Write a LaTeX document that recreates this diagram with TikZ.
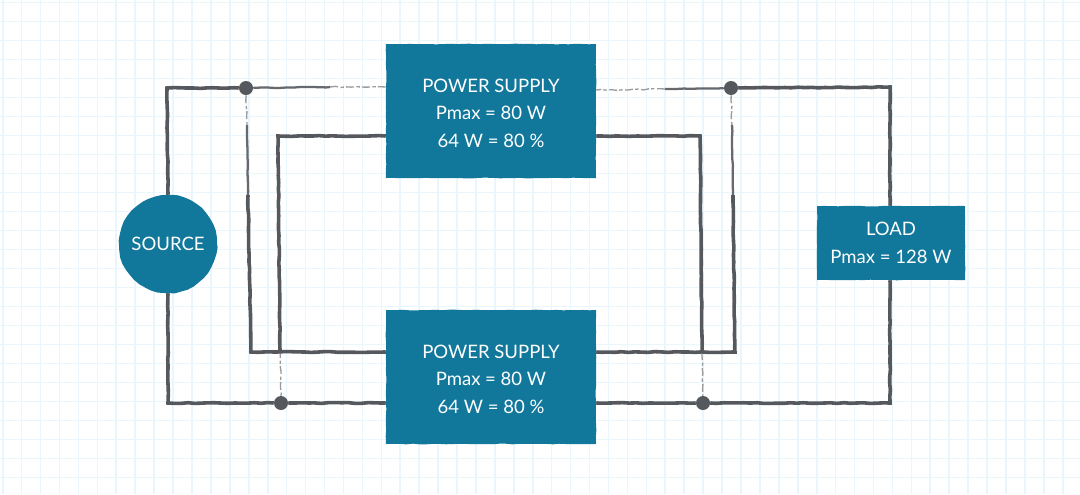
\documentclass[tikz,border=0pt]{standalone}
\usepackage{fontspec}
\setmainfont{Lato}
\usetikzlibrary{decorations.pathmorphing,backgrounds}
\definecolor{gridc}{HTML}{E9F6FC}
\definecolor{wirec}{HTML}{55595E}
\definecolor{boxc}{HTML}{11789C}
\pgfmathsetseed{7}
\newcommand{\lowered}[1]{\raisebox{-1.7pt}[\height][\depth]{#1}}
\tikzset{
  x=0.75pt,y=-0.75pt,
  gridline/.style={draw=gridc,line width=1.2pt},
  rough/.style={decorate,decoration={random steps,segment length=5pt,amplitude=0.3pt}},
  wire/.style={draw=wirec,line width=2.7pt,rough,line join=miter,
    preaction={draw=wirec,line width=1.4pt,decorate,decoration={random steps,segment length=9pt,amplitude=0.8pt}}},
  midwire/.style={draw=wirec!90,line width=1.7pt,rough,
    preaction={draw=wirec!60,line width=0.7pt,decorate,decoration={random steps,segment length=7pt,amplitude=0.8pt}}},
  faint/.style={draw=wirec!60,line width=1pt,dash pattern=on 6pt off 2pt on 2.5pt off 1.5pt,
    decorate,decoration={random steps,segment length=4pt,amplitude=0.5pt}},
  blockbox/.style={fill=boxc,text=white,inner sep=0pt,align=center,font=\fontsize{13.9pt}{20.5pt}\selectfont,
    decorate,decoration={random steps,segment length=5pt,amplitude=0.25pt}},
  junction/.style={circle,fill=wirec,inner sep=0pt,minimum size=10.5pt},
}
\begin{document}
\begin{tikzpicture}
\useasboundingbox (0,0) rectangle (1080,494);

\node[blockbox,circle,minimum size=73.5pt] (source) at (168,244) {SOURCE};
\node[blockbox,minimum width=157.5pt,minimum height=100.5pt] (ps1) at (491,111) {\lowered{POWER SUPPLY}\\\lowered{Pmax = 80 W}\\\lowered{64 W = 80 \%}};
\node[blockbox,minimum width=157.5pt,minimum height=100.5pt] (ps2) at (491,377) {\lowered{POWER SUPPLY}\\\lowered{Pmax = 80 W}\\\lowered{64 W = 80 \%}};
\node[blockbox,minimum width=111pt,minimum height=55.5pt] (load) at (891,243) {LOAD\\Pmax = 128 W};
\node[junction] (j1) at (246,88) {};
\node[junction] (j2) at (731,88) {};
\node[junction] (j3) at (281,403) {};
\node[junction] (j4) at (703,403) {};

\coordinate (tl) at (167,88);
\coordinate (tr) at (890,87);
\coordinate (bl) at (168,403);
\coordinate (br) at (890,403);
\coordinate (a1) at (330,87);
\coordinate (a2) at (665,89);
\coordinate (p1t) at (ps1.west |- 0,87);
\coordinate (p1tr) at (ps1.east |- 0,90);
\coordinate (p1l) at (ps1.west |- 0,136);
\coordinate (p1r) at (ps1.east |- 0,136);
\coordinate (p2l) at (ps2.west |- 0,352);
\coordinate (p2r) at (ps2.east |- 0,352);
\coordinate (p2bl) at (ps2.west |- 0,403);
\coordinate (p2br) at (ps2.east |- 0,403);
\coordinate (il) at (278,136);
\coordinate (ir) at (700,136);
\coordinate (il2) at (280,350);
\coordinate (ir2) at (702,352);
\coordinate (ol) at (251,352);
\coordinate (or) at (735,352);
\coordinate (m1a) at (247,125);
\coordinate (m1b) at (248,195);
\coordinate (m2a) at (732,125);
\coordinate (m2b) at (733,195);

\begin{pgfonlayer}{background}
  \fill[white] (0,0) rectangle (1080,494);
  \foreach \gx in {0,...,56} {\draw[gridline] (2.7+18.93*\gx,0) -- (2.7+18.93*\gx,494);}
  \foreach \gy in {0,...,26} {\draw[gridline] (0,2.5+19*\gy) -- (1080,2.5+19*\gy);}

  \draw[wire] (source.north) -- (tl) -- (j1);
  \draw[wire] (source.south) -- (bl) -- (j3);
  \draw[wire] (j3) -- (p2bl);
  \draw[wire] (p2br) -- (j4);
  \draw[wire] (j4) -- (br) -- (load.south -| br);
  \draw[wire] (j2) -- (tr) -- (load.north -| tr);

  \draw[midwire] (j1) -- (a1);
  \draw[faint] (a1) -- (p1t);
  \draw[midwire] (j2) -- (a2);
  \draw[faint] (a2) -- (p1tr);

  \draw[wire] (p1l) -- (il) -- (il2);
  \draw[faint] (il2) -- (j3);
  \draw[wire] (p1r) -- (ir) -- (ir2);
  \draw[faint] (ir2) -- (j4);

  \draw[faint] (j1) -- (m1a);
  \draw[midwire] (m1a) -- (m1b);
  \draw[wire] (m1b) -- (ol) -- (p2l);
  \draw[faint] (j2) -- (m2a);
  \draw[midwire] (m2a) -- (m2b);
  \draw[wire] (m2b) -- (or) -- (p2r);
\end{pgfonlayer}
\end{tikzpicture}
\end{document}
